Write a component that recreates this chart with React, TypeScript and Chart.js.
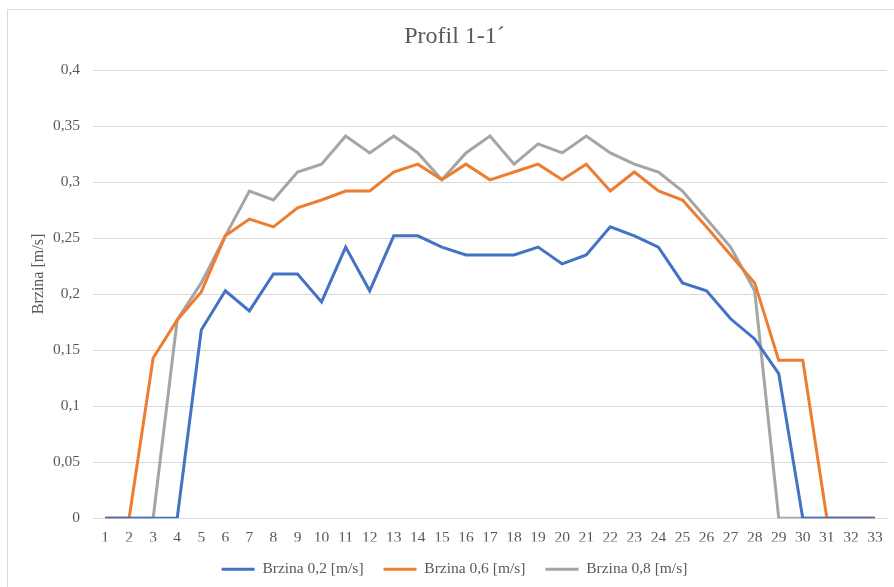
import React, { useEffect, useRef } from "react";
import { Chart, registerables } from "chart.js";

Chart.register(...registerables);

const categories: string[] = [
  "1", "2", "3", "4", "5", "6", "7", "8", "9", "10", "11", "12", "13", "14", "15", "16", "17",
  "18", "19", "20", "21", "22", "23", "24", "25", "26", "27", "28", "29", "30", "31", "32", "33",
];

const brzina02: number[] = [
  0, 0, 0, 0, 0.168, 0.203, 0.185, 0.218, 0.218, 0.193, 0.242, 0.203, 0.252, 0.252, 0.242, 0.235, 0.235,
  0.235, 0.242, 0.227, 0.235, 0.26, 0.252, 0.242, 0.21, 0.203, 0.178, 0.16, 0.129, 0, 0, 0, 0,
];

const brzina06: number[] = [
  0, 0, 0.143, 0.177, 0.202, 0.252, 0.267, 0.26, 0.277, 0.284, 0.292, 0.292, 0.309, 0.316, 0.302, 0.316, 0.302,
  0.309, 0.316, 0.302, 0.316, 0.292, 0.309, 0.292, 0.284, 0.26, 0.235, 0.21, 0.141, 0.141, 0, 0, 0,
];

const brzina08: number[] = [
  0, 0, 0, 0.177, 0.21, 0.252, 0.292, 0.284, 0.309, 0.316, 0.341, 0.326, 0.341, 0.326, 0.302, 0.326, 0.341,
  0.316, 0.334, 0.326, 0.341, 0.326, 0.316, 0.309, 0.292, 0.267, 0.242, 0.203, 0, 0, 0, 0, 0,
];

const seriesNames: string[] = ["Brzina 0,2 [m/s]", "Brzina 0,6 [m/s]", "Brzina 0,8 [m/s]"];
const titleText = "Profil 1-1´";
const yAxisTitle = "Brzina [m/s]";

const FONT = "'Liberation Serif', 'Times New Roman', serif";
const TEXT = "#595959";
const GRID = "#d9d9d9";

const yTitlePlugin = {
  id: "yTitlePlugin",
  afterDraw(chart: any) {
    const ctx = chart.ctx;
    ctx.save();
    ctx.translate(39, 274);
    ctx.rotate(-Math.PI / 2);
    ctx.font = `16px ${FONT}`;
    ctx.fillStyle = TEXT;
    ctx.textAlign = "center";
    ctx.textBaseline = "middle";
    ctx.fillText(yAxisTitle, 0, 0);
    ctx.restore();
  },
};

export default function App() {
  const ref = useRef<HTMLCanvasElement | null>(null);

  useEffect(() => {
    if (!ref.current) return;
    Chart.defaults.font.family = FONT;
    const mk = (label: string, data: number[], color: string) => ({
      label,
      data,
      borderColor: color,
      backgroundColor: color,
      borderWidth: 3,
      pointRadius: 0,
      pointHoverRadius: 0,
      tension: 0,
      fill: false,
    });
    const chart = new Chart(ref.current, {
      type: "line",
      data: {
        labels: categories,
        datasets: [
          mk(seriesNames[0], brzina02, "#4472C4"),
          mk(seriesNames[1], brzina06, "#ED7D31"),
          mk(seriesNames[2], brzina08, "#A5A5A5"),
        ],
      },
      plugins: [yTitlePlugin],
      options: {
        responsive: false,
        animation: false,
        layout: { padding: { left: 22, right: 7, top: 0, bottom: 0 } },
        plugins: {
          title: {
            display: true,
            text: titleText,
            color: TEXT,
            font: { size: 24, weight: "normal", family: FONT, lineHeight: 1.2 },
            padding: { top: 22.6, bottom: 18.6 },
          },
          legend: {
            display: true,
            position: "bottom",
            labels: {
              color: TEXT,
              font: { size: 15.5, family: FONT },
              usePointStyle: true,
              pointStyle: "line",
              pointStyleWidth: 33,
              boxHeight: 15.5,
              padding: 20,
            },
          },
          tooltip: { enabled: false },
        },
        scales: {
          x: {
            offset: true,
            grid: { display: false, drawTicks: false },
            border: { display: true, color: GRID, width: 1 },
            ticks: {
              color: TEXT,
              font: { size: 15.5, family: FONT },
              padding: 10,
              maxRotation: 0,
              autoSkip: false,
            },
            afterFit: (scale: any) => {
              scale.height = 23.25;
            },
          },
          y: {
            min: 0,
            max: 0.4,
            grid: { color: GRID, lineWidth: 1, drawTicks: false },
            border: { display: false },
            ticks: {
              stepSize: 0.05,
              color: TEXT,
              font: { size: 15.5, family: FONT },
              padding: 13,
              callback: (v: any) => String(Math.round(Number(v) * 100) / 100).replace(".", ","),
            },
            afterFit: (scale: any) => {
              scale.width = 71;
            },
          },
        },
      },
    } as any);
    return () => chart.destroy();
  }, []);

  return (
    <div style={{ position: "fixed", left: 0, top: 0, width: 894, height: 587, overflow: "hidden", background: "#fff" }}>
      <div
        style={{
          position: "absolute",
          left: 7,
          top: 9,
          width: 950,
          height: 650,
          border: `1px solid ${GRID}`,
          boxSizing: "border-box",
        }}
      />
      <canvas ref={ref} width={894} height={587} style={{ position: "absolute", left: 0, top: 0, width: 894, height: 587 }} />
    </div>
  );
}
